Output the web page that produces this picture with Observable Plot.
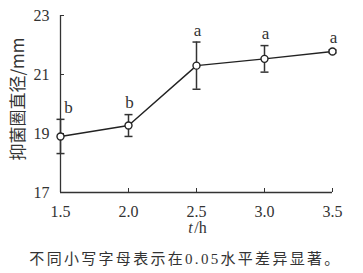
<!DOCTYPE html>
<html><head><meta charset="utf-8">
<script src="https://cdn.jsdelivr.net/npm/d3@7"></script>
<script src="https://cdn.jsdelivr.net/npm/@observablehq/plot@0.6"></script>
<style>
body{margin:0;background:#fff;width:363px;height:273px;overflow:hidden;}
#cap{font-family:"Liberation Serif","Noto Sans CJK SC",serif;font-size:15px;letter-spacing:2.3px;color:#333;text-align:center;padding-left:8px;margin-top:11px;line-height:16px;white-space:nowrap;}
</style></head>
<body><div id="chart"></div><div id="cap"></div>
<script>
const times = [1.5, 2.0, 2.5, 3.0, 3.5];
const means = [18.9, 19.27, 21.3, 21.53, 21.78];
const errs = [0.58, 0.37, 0.8, 0.45, 0.05];
const letters = ["b", "b", "a", "a", "a"];
const xTicks = [1.5, 2.0, 2.5, 3.0, 3.5];
const yTicks = [17, 19, 21, 23];
const yLabel = "抑菌圈直径/mm";
const caption = "不同小写字母表示在0.05水平差异显著。";

const data = times.map((t, i) => ({t, m: means[i], e: errs[i], lo: means[i] - errs[i], hi: means[i] + errs[i], l: letters[i]}));
const ink = "#333";
const serif = "Liberation Serif, Noto Sans CJK SC, serif";
const cap = {draw(ctx, size) { ctx.moveTo(-4, 0); ctx.lineTo(4, 0); }};

const chart = Plot.plot({
  width: 363, height: 240,
  marginLeft: 60, marginRight: 31, marginTop: 15, marginBottom: 48,
  style: {fontFamily: serif, fontSize: "16px", color: ink, background: "#fff"},
  x: {domain: [1.5, 3.5]},
  y: {domain: [17, 23]},
  marks: [
    Plot.ruleX([1.5], {stroke: ink, strokeWidth: 1.3}),
    Plot.ruleY([17], {stroke: ink, strokeWidth: 1.3}),
    Plot.axisY({ticks: yTicks, tickFormat: d => d, tickSize: -4, tickPadding: 15, label: null, stroke: ink, fill: ink, fontSize: 16}),
    Plot.axisX({ticks: xTicks, tickFormat: d => d.toFixed(1), tickSize: -4, tickPadding: 17, label: null, stroke: ink, fill: ink, fontSize: 16}),
    Plot.ruleX(data, {x: "t", y1: "lo", y2: "hi", stroke: ink, strokeWidth: 1.5}),
    Plot.dot(data, {x: "t", y: "lo", symbol: cap, stroke: ink, strokeWidth: 1.5, r: 4}),
    Plot.dot(data, {x: "t", y: "hi", symbol: cap, stroke: ink, strokeWidth: 1.5, r: 4}),
    Plot.line(data, {x: "t", y: "m", stroke: "#222", strokeWidth: 1.4}),
    Plot.dot(data, {x: "t", y: "m", r: 3.5, fill: "#fff", stroke: "#222", strokeWidth: 1.4}),
    Plot.text(data.slice(0, 1), {x: "t", y: "hi", text: "l", dx: 8, dy: -12, fill: ink, fontSize: 17}),
    Plot.text(data.slice(1), {x: "t", y: "hi", text: "l", dx: 1, dy: -12, fill: ink, fontSize: 17}),
    Plot.text([yLabel], {frameAnchor: "left", textAnchor: "middle", text: d => d, rotate: -90, dx: -42, dy: -5, fill: ink, fontSize: 17, fontFamily: "Noto Sans CJK SC, sans-serif"}),
    Plot.text(["t"], {frameAnchor: "bottom", text: d => d, dx: -6, dy: 40, fill: ink, fontSize: 16, fontStyle: "italic"}),
    Plot.text(["/h"], {frameAnchor: "bottom", text: d => d, dx: 4, dy: 40, fill: ink, fontSize: 16})
  ]
});
document.getElementById("chart").append(chart);
document.getElementById("cap").textContent = caption;
</script></body></html>
